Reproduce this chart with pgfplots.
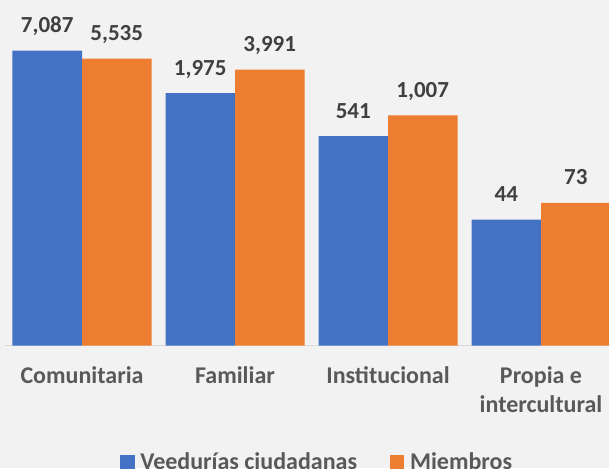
\documentclass[border=0pt]{standalone}
\usepackage{pgfplots}
\pgfplotsset{compat=1.18}
\usepackage{fontspec}
\setmainfont{Carlito}
\definecolor{bgc}{HTML}{F2F2F2}
\definecolor{cblue}{HTML}{4472C4}
\definecolor{corange}{HTML}{ED7D31}
\definecolor{tickc}{HTML}{595959}
\definecolor{valc}{HTML}{404040}
\definecolor{axc}{HTML}{D9D9D9}
\begin{document}
\begin{tikzpicture}
\path[use as bounding box, fill=bgc] (0pt,0pt) rectangle (609pt,468pt);
\begin{axis}[
  at={(5.5pt,122.5pt)}, anchor=south west,
  scale only axis, width=612pt, height=345.5pt,
  ybar=0pt, bar width=69.5pt,
  ymode=log, ymin=1, ymax=32359, log origin=0,
  xmin=-0.5, xmax=3.5, enlargelimits=false,
  axis x line*=bottom, axis y line=none,
  x axis line style={draw=axc, line width=1pt, -},
  xtick=data, xticklabels={Comunitaria, Familiar, Institucional, {Propia e\\intercultural}},
  major tick length=0pt,
  x tick label style={font=\fontsize{24}{29}\selectfont\bfseries, text=tickc, align=center, inner sep=0pt, anchor=north, yshift=-21pt},
  ytick=\empty,
  nodes near coords, point meta=rawy,
  nodes near coords style={font=\fontsize{23}{28}\selectfont\bfseries, text=valc, anchor=base, yshift=18pt, inner sep=0pt,
    /pgf/number format/.cd, fixed, precision=0, 1000 sep={,}, assume math mode=true},
  legend columns=2,
  legend style={at={(0.5077,-0.337)}, anchor=center, draw=none, fill=none,
    font=\fontsize{24}{28}\selectfont\bfseries, text=tickc,
    nodes={inner sep=0pt},
    /tikz/every odd column/.append style={column sep=5.7pt},
    /tikz/every even column/.append style={column sep=33pt}},
  legend image code/.code={\fill[#1] (0pt,-7.15pt) rectangle (14.3pt,7.15pt);},
]
\addplot[fill=cblue, draw=none] coordinates {(0,7087) (1,1975) (2,541) (3,44)};
\addplot[fill=corange, draw=none] coordinates {(0,5535) (1,3991) (2,1007) (3,73)};
\legend{Veedurías ciudadanas, Miembros}
\end{axis}
\end{tikzpicture}
\end{document}
